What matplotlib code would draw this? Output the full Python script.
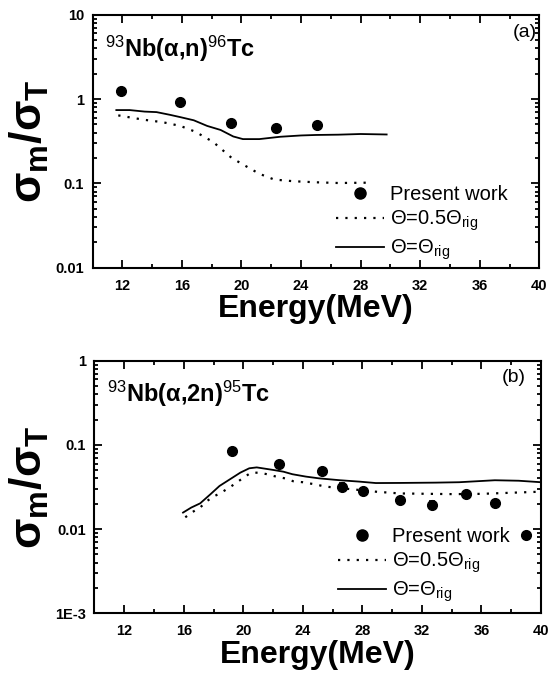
import matplotlib
matplotlib.use('Agg')
import matplotlib.pyplot as plt
from matplotlib.lines import Line2D
from matplotlib.ticker import FixedLocator, LogLocator, FuncFormatter, NullFormatter

plt.rcParams['font.family'] = ['Liberation Sans', 'DejaVu Sans']
plt.rcParams['mathtext.fontset'] = 'custom'
plt.rcParams['mathtext.rm'] = 'Liberation Sans'
plt.rcParams['mathtext.it'] = 'Liberation Sans:italic'
plt.rcParams['mathtext.bf'] = 'Liberation Sans:bold'

# (a) 93Nb(a,n)96Tc
e_a = [11.9, 15.85, 19.3, 22.35, 25.1]
r_a = [1.25, 0.93, 0.52, 0.45, 0.49]
err_a = [0.11, 0.08, 0.05, 0.04, 0.045]

solid_a_x = [11.6, 12.5, 13.5, 14.3, 15.2, 15.9, 16.8, 17.7, 18.6, 19.45, 20.1, 21.2,
             22.6, 24.0, 25.0, 26.5, 28.0, 29.75]
solid_a_y = [0.74, 0.74, 0.71, 0.70, 0.65, 0.61, 0.56, 0.48, 0.43, 0.36, 0.335, 0.335,
             0.357, 0.37, 0.375, 0.378, 0.385, 0.38]

dot_a_x = [11.73, 13.4, 14.75, 15.9, 16.9, 18.1, 19.35, 20.3, 21.2, 22.2, 23.5, 25.0, 26.5, 28.7]
dot_a_y = [0.64, 0.57, 0.53, 0.48, 0.41, 0.31, 0.20, 0.16, 0.13, 0.111, 0.106, 0.103, 0.101, 0.102]

# (b) 93Nb(a,2n)95Tc
e_b = [19.25, 22.4, 25.3, 26.65, 28.05, 30.5, 32.7, 34.95, 36.9, 39.0]
r_b = [0.084, 0.059, 0.049, 0.032, 0.028, 0.022, 0.0195, 0.026, 0.0205, 0.0085]
err_b = [0.007, 0.005, 0.004, 0.003, 0.0025, 0.002, 0.0018, 0.0022, 0.0018, 0.0008]

solid_b_x = [15.95, 16.5, 17.1, 17.8, 18.4, 19.1, 19.8, 20.4, 20.9, 21.5, 22.0, 22.7, 23.3,
             24.2, 25.1, 26.5, 27.8, 28.9, 30.5, 32.9, 34.5, 36.9, 38.5, 40.0]
solid_b_y = [0.0157, 0.0180, 0.0202, 0.026, 0.0325, 0.039, 0.0468, 0.0527, 0.054, 0.052,
             0.0504, 0.048, 0.0448, 0.042, 0.040, 0.038, 0.0366, 0.0352, 0.0353, 0.0356,
             0.036, 0.038, 0.0375, 0.036]

dot_b_x = [16.1, 16.6, 17.1, 17.5, 18.0, 18.5, 19.05, 19.55, 20.0, 20.5, 21.05, 21.6, 22.2,
           22.8, 23.35, 24.0, 24.8, 25.5, 26.0, 27.3, 28.9, 30.5, 32.5, 34.1, 36.0, 38.0, 40.0]
dot_b_y = [0.0138, 0.016, 0.018, 0.0212, 0.0243, 0.027, 0.031, 0.0356, 0.0407, 0.0465,
           0.0468, 0.0448, 0.042, 0.040, 0.037, 0.036, 0.034, 0.032, 0.0313, 0.0297, 0.0278,
           0.0265, 0.0262, 0.026, 0.0262, 0.027, 0.0278]

x_ticks = [12, 16, 20, 24, 28, 32, 36, 40]
dotted = (0, (1, 3.2))


def ytick_fmt(v, pos):
    if v >= 1:
        return '%d' % round(v)
    if v < 0.005:
        return '1E-3'
    return ('%.3f' % v).rstrip('0')


def draw_panel(ax, e, r, err, sx, sy, dx, dy, ylim, title, tag, tag_x, leg_y):
    ax.errorbar(e, r, yerr=err, fmt='o', color='black', ms=7, capsize=2.5,
                elinewidth=1.2, capthick=1.2, zorder=3)
    ax.plot(dx, dy, color='black', lw=1.6, linestyle=dotted)
    ax.plot(sx, sy, color='black', lw=1.3)

    ax.set_yscale('log')
    ax.set_xlim(10, 40)
    ax.set_ylim(*ylim)
    ax.xaxis.set_major_locator(FixedLocator(x_ticks))
    ax.xaxis.set_minor_locator(FixedLocator(range(10, 41, 2)))
    ax.yaxis.set_major_locator(LogLocator(base=10, numticks=10))
    ax.yaxis.set_minor_locator(LogLocator(base=10, subs=range(2, 10), numticks=20))
    ax.yaxis.set_major_formatter(FuncFormatter(ytick_fmt))
    ax.yaxis.set_minor_formatter(NullFormatter())
    ax.tick_params(which='both', direction='in', top=True, right=True, width=1.3)
    ax.tick_params(which='major', length=5.5)
    ax.tick_params(which='minor', length=3)
    ax.tick_params(axis='x', which='major', pad=8, labelsize=10.5)
    ax.tick_params(axis='y', which='major', pad=6, labelsize=10.5)
    for lbl in ax.get_xticklabels() + ax.get_yticklabels():
        lbl.set_fontweight('bold')
    for sp in ax.spines.values():
        sp.set_linewidth(1.5)

    ax.set_xlabel('Energy(MeV)', fontsize=23, fontweight='bold', labelpad=1)
    ax.set_ylabel('σ$_{\\bf m}$/σ$_{\\bf T}$', fontsize=32, fontweight='bold', labelpad=3)

    ax.text(0.027, 0.835, title, transform=ax.transAxes, fontsize=17,
            fontweight='bold', va='baseline', ha='left')
    ax.text(tag_x, 0.965, tag, transform=ax.transAxes, fontsize=14, va='top', ha='right')

    handles = [
        Line2D([], [], marker='o', ls='none', color='black', ms=8),
        Line2D([], [], color='black', lw=1.6, linestyle=dotted),
        Line2D([], [], color='black', lw=1.3),
    ]
    labels = ['Present work', 'Θ=0.5Θ$_{\\rm rig}$', 'Θ=Θ$_{\\rm rig}$']
    ax.legend(handles, labels, loc='upper left', bbox_to_anchor=(0.545, leg_y),
              frameon=False, fontsize=14.5, handlelength=2.4, handletextpad=0.3,
              labelspacing=0.22, borderpad=0, borderaxespad=0)


fig = plt.figure(figsize=(5.48, 6.88), dpi=100)
ax_a = fig.add_axes([0.1688, 0.6109, 0.8153, 0.3677])
ax_b = fig.add_axes([0.1724, 0.1086, 0.8148, 0.3672])

draw_panel(ax_a, e_a, r_a, err_a, solid_a_x, solid_a_y, dot_a_x, dot_a_y, (0.01, 10),
           '$^{93}$Nb(α,n)$^{96}$Tc', '(a)', 0.995, 0.325)
draw_panel(ax_b, e_b, r_b, err_b, solid_b_x, solid_b_y, dot_b_x, dot_b_y, (0.001, 1),
           '$^{93}$Nb(α,2n)$^{95}$Tc', '(b)', 0.965, 0.34)

fig.savefig('out.png', dpi=100)
